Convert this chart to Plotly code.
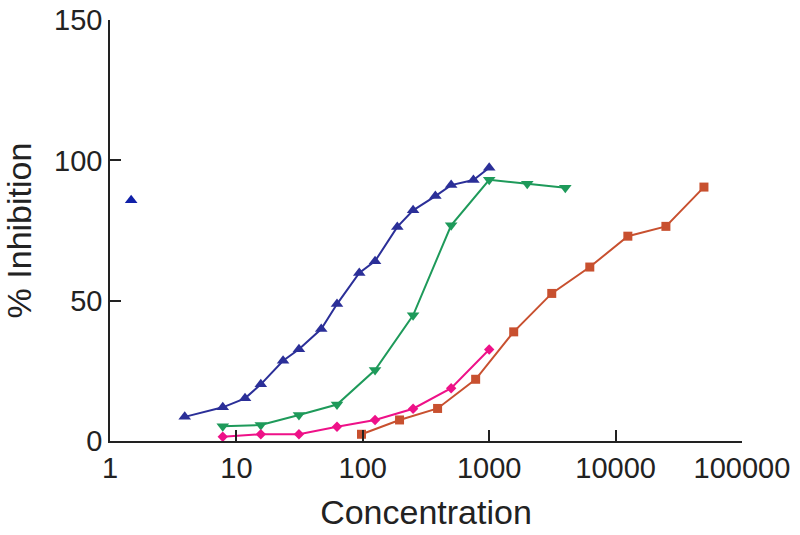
import plotly.graph_objects as go

# Data
blue_conc = [3.9, 7.8, 11.7, 15.6, 23.4, 31.25, 46.9, 62.5, 93.75, 125, 187.5, 250, 375, 500, 750, 1000]
blue_inh = [8.6, 12.0, 15.2, 20.2, 28.6, 32.7, 39.9, 48.8, 59.9, 64.1, 76.3, 82.2, 87.3, 91.2, 93.0, 97.4]

blue_single_conc = [1.47]
blue_single_inh = [85.8]

green_conc = [7.8, 15.6, 31.25, 62.5, 125, 250, 500, 1000, 2000, 4000]
green_inh = [5.3, 5.7, 9.3, 13.0, 25.3, 44.8, 76.9, 93.1, 91.7, 90.3]

pink_conc = [7.8, 15.6, 31.25, 62.5, 125, 250, 500, 1000]
pink_inh = [1.5, 2.4, 2.4, 5.1, 7.5, 11.5, 18.8, 32.6]

orange_conc = [97.66, 195.3, 390.6, 781.25, 1562.5, 3125, 6250, 12500, 25000, 50000]
orange_inh = [2.4, 7.5, 11.6, 22.0, 38.9, 52.6, 62.0, 73.0, 76.5, 90.5]

x_tickvals = [1, 10, 100, 1000, 10000, 100000]
x_ticktext = ["1", "10", "100", "1000", "10000", "100000"]
y_tickvals = [0, 50, 100, 150]

BLUE = "#2B2F98"
GREEN = "#1E9A5A"
PINK = "#EE1188"
ORANGE = "#C8502F"

fig = go.Figure()
fig.add_trace(go.Scatter(x=blue_conc, y=blue_inh, mode="lines+markers",
                         line=dict(color=BLUE, width=2),
                         marker=dict(symbol="triangle-up", size=11, color=BLUE)))
fig.add_trace(go.Scatter(x=blue_single_conc, y=blue_single_inh, mode="markers",
                         marker=dict(symbol="triangle-up", size=11, color="#1020A8")))
fig.add_trace(go.Scatter(x=green_conc, y=green_inh, mode="lines+markers",
                         line=dict(color=GREEN, width=2),
                         marker=dict(symbol="triangle-down", size=11, color=GREEN)))
fig.add_trace(go.Scatter(x=pink_conc, y=pink_inh, mode="lines+markers",
                         line=dict(color=PINK, width=2),
                         marker=dict(symbol="diamond", size=8, color=PINK)))
fig.add_trace(go.Scatter(x=orange_conc, y=orange_inh, mode="lines+markers",
                         line=dict(color=ORANGE, width=2),
                         marker=dict(symbol="square", size=9, color=ORANGE)))

axis_font = dict(family="Liberation Sans, Arial, sans-serif", size=29, color="#222222")
title_font = dict(family="Liberation Sans, Arial, sans-serif", size=34, color="#222222")

fig.update_layout(
    width=800, height=535,
    margin=dict(l=110, r=58, t=20, b=94),
    plot_bgcolor="white", paper_bgcolor="white",
    showlegend=False,
    xaxis=dict(type="log", range=[0, 5], tickvals=x_tickvals, ticktext=x_ticktext,
               ticks="inside", ticklen=11, tickwidth=1.5, tickcolor="#222222",
               showline=True, linecolor="#222222", linewidth=1.5, automargin=False,
               showgrid=False, zeroline=False, tickfont=axis_font,
               title=dict(text="Concentration", font=title_font, standoff=18)),
    yaxis=dict(range=[0, 150.05], tickvals=y_tickvals,
               ticks="inside", ticklen=11, tickwidth=1.5, tickcolor="#222222",
               showline=True, linecolor="#222222", linewidth=1.5, automargin=False,
               showgrid=False, zeroline=False, tickfont=axis_font,
               ticklabeloverflow="allow",
               title=dict(text="% Inhibition", font=title_font, standoff=18)),
)

fig.write_html("out.html",
               config={"displayModeBar": False},
               post_script="document.body.style.margin='0';document.body.style.overflow='hidden';")
